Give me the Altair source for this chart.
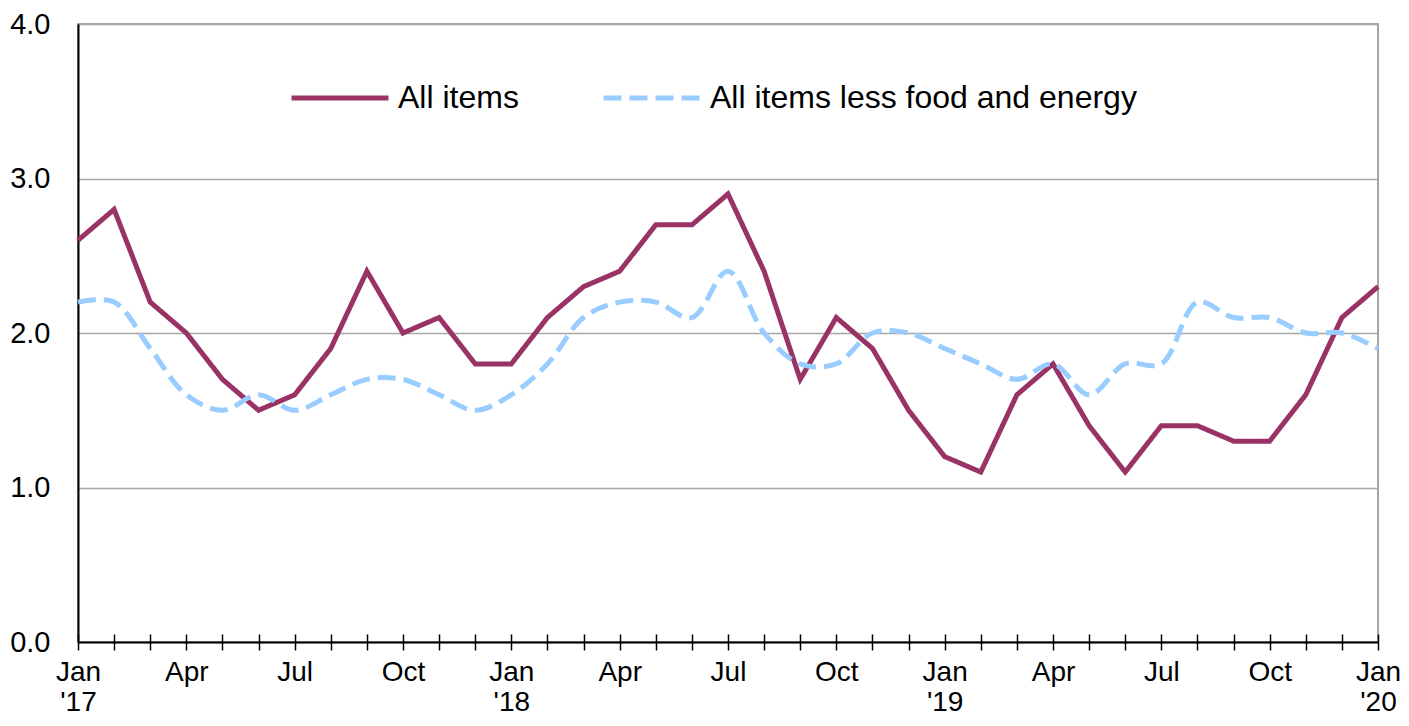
import json
import altair as alt
import pandas as pd

# ---- data (12-month percent change) ----
months = ["Jan", "Feb", "Mar", "Apr", "May", "Jun",
          "Jul", "Aug", "Sep", "Oct", "Nov", "Dec"]
years = ["'17", "'18", "'19", "'20"]
series_names = ["All items", "All items less food and energy"]

all_items = [2.6, 2.8, 2.2, 2.0, 1.7, 1.5, 1.6, 1.9, 2.4, 2.0, 2.1, 1.8,
             1.8, 2.1, 2.3, 2.4, 2.7, 2.7, 2.9, 2.4, 1.7, 2.1, 1.9, 1.5,
             1.2, 1.1, 1.6, 1.8, 1.4, 1.1, 1.4, 1.4, 1.3, 1.3, 1.6, 2.1,
             2.3]
core = [2.2, 2.2, 1.9, 1.6, 1.5, 1.6, 1.5, 1.6, 1.7, 1.7, 1.6, 1.5,
        1.6, 1.8, 2.1, 2.2, 2.2, 2.1, 2.4, 2.0, 1.8, 1.8, 2.0, 2.0,
        1.9, 1.8, 1.7, 1.8, 1.6, 1.8, 1.8, 2.2, 2.1, 2.1, 2.0, 2.0,
        1.9]
y_ticks = [0, 1, 2, 3, 4]

n = len(all_items)
tick_labels = []
for i in range(n):
    m = months[i % 12]
    if i % 12 == 0:
        tick_labels.append([m, years[i // 12]])
    elif i % 3 == 0:
        tick_labels.append(m)
    else:
        tick_labels.append("")

rows = []
for i in range(n):
    rows.append({"idx": i, "value": all_items[i], "series": series_names[0]})
for i in range(n):
    rows.append({"idx": i, "value": core[i], "series": series_names[1]})
df = pd.DataFrame(rows)

FONT = "Liberation Sans"
x_scale = alt.Scale(domain=[0, n - 1], nice=False, zero=False)
y_scale = alt.Scale(domain=[0, 4], nice=False, zero=True)

legend = alt.Legend(
    title=None, orient="none", legendX=211, legendY=23, direction="horizontal",
    symbolType="stroke", symbolSize=9400, symbolStrokeWidth=5,
    labelFontSize=32, labelFont=FONT, labelColor="#000000",
    labelOffset=7, columnPadding=74, padding=0, labelLimit=800,
)

color = alt.Color("series:N",
                  scale=alt.Scale(domain=series_names, range=["#993366", "#99CCFF"]),
                  legend=legend)
dash = alt.StrokeDash("series:N",
                      scale=alt.Scale(domain=series_names, range=[[1, 0], [18, 8]]),
                      legend=legend)

y_enc = alt.Y("value:Q", scale=y_scale,
              axis=alt.Axis(values=y_ticks, format=".1f", title=None,
                            grid=True, gridColor="#a6a6a6", gridWidth=1.5,
                            ticks=False, domain=True, domainColor="#000000",
                            domainWidth=2, labelFontSize=29, labelFont=FONT,
                            labelColor="#000000", labelPadding=28))

x_main = alt.X("idx:Q", scale=x_scale,
               axis=alt.Axis(values=list(range(n)), title=None, orient="bottom",
                             labelExpr=f"{json.dumps(tick_labels)}[datum.value]",
                             labelFontSize=28, labelFont=FONT, labelColor="#000000",
                             labelLineHeight=30, labelPadding=8, labelOverlap=False,
                             labelFlush=False,
                             tickSize=8, tickColor="#000000", tickWidth=1.5,
                             domainColor="#000000", domainWidth=2, grid=False))

x_ticks_up = alt.X("idx:Q", scale=x_scale,
                   axis=alt.Axis(values=list(range(n)), title=None, orient="bottom",
                                 offset=-8, labels=False, domain=False, grid=False,
                                 tickSize=8, tickColor="#000000", tickWidth=1.5))

line_all = alt.Chart(df).mark_line(strokeWidth=5, interpolate="linear").encode(
    x=x_main, y=y_enc, color=color, strokeDash=dash
).transform_filter(alt.datum.series == series_names[0])

line_core = alt.Chart(df).mark_line(strokeWidth=5, interpolate="catmull-rom").encode(
    x=x_ticks_up, y=y_enc, color=color, strokeDash=dash
).transform_filter(alt.datum.series == series_names[1])

chart = alt.layer(line_all, line_core).resolve_axis(x="independent").properties(
    width=1300, height=618,
    autosize=alt.AutoSizeParams(type="none"),
    padding={"left": 70, "top": 16, "right": 23, "bottom": 76},
    background="#ffffff",
).configure_view(stroke="#a6a6a6", strokeWidth=2)

chart.save("out.html", embed_options={"renderer": "svg", "actions": False})
